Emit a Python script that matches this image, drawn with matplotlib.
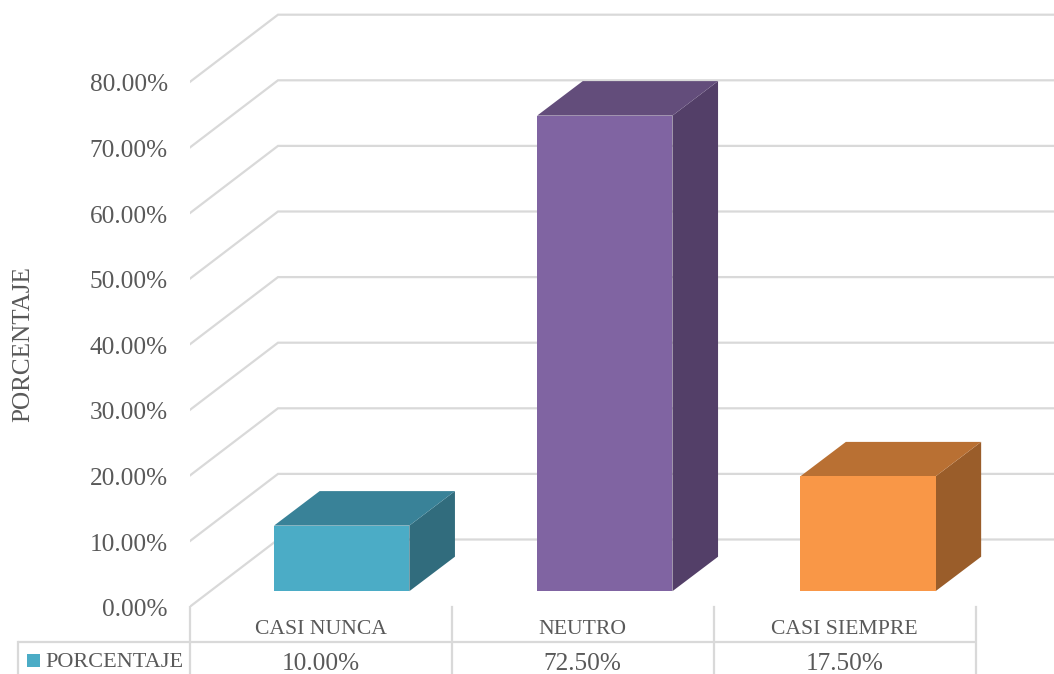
import matplotlib
matplotlib.use("Agg")
import matplotlib.pyplot as plt
from matplotlib.patches import Polygon, Rectangle
from matplotlib.transforms import ScaledTranslation

categories = ["CASI NUNCA", "NEUTRO", "CASI SIEMPRE"]
values = [10.0, 72.5, 17.5]
series_name = "PORCENTAJE"
y_ticks = [0, 10, 20, 30, 40, 50, 60, 70, 80]
y_tick_labels = [f"{v:.2f}%" for v in y_ticks]
front_colors = ["#4BACC6", "#8064A2", "#F99747"]
top_colors = ["#398298", "#634D7B", "#B97033"]
side_colors = ["#316C7D", "#533F68", "#9A5D2A"]

W, H = 1054, 674
LEFT, BASE = 189.5, 607.0      # pixel position of the (front) 0 line
CAT_W = 262.0                  # pixels per category
PX_PCT = 6.56                  # pixels per percent
GRID = "#D9D9D9"
TXT = "#595959"
plt.rcParams["font.family"] = ["Liberation Serif", "DejaVu Serif"]

fig = plt.figure(figsize=(W / 100, H / 100), dpi=100)
ax = fig.add_axes([LEFT / W, (H - BASE) / H, (W - LEFT) / W, BASE / H])
ax.set_xlim(-0.5, -0.5 + (W - LEFT) / CAT_W)
ax.set_ylim(0, BASE / PX_PCT)
for s in ax.spines.values():
    s.set_visible(False)

dxp = lambda p: p / CAT_W      # pixel length -> x data
dyp = lambda p: p / PX_PCT     # pixel length -> y data

# walls
wall_dx, wall_dy = dxp(88.5), dyp(67.5)
xmax = ax.get_xlim()[1]
for v in y_ticks:
    ax.plot([-0.5, -0.5 + wall_dx, xmax], [v, v + wall_dy, v + wall_dy],
            color=GRID, lw=1.6, zorder=1, solid_joinstyle="miter")

# 3D bars
bar_w = dxp(135.3)
bar_off = dxp(21.2)
bar_step = dxp(263.1)
lift = dyp(15.8)
depth_x, depth_y = dxp(45.6), dyp(34.5)
for i, v in enumerate(values):
    x0 = i * bar_step + bar_off - bar_w / 2
    x1 = x0 + bar_w
    y0, y1 = lift, lift + v
    ax.add_patch(Polygon([(x1, y0), (x1 + depth_x, y0 + depth_y), (x1 + depth_x, y1 + depth_y), (x1, y1)],
                         closed=True, fc=side_colors[i], ec="none", zorder=3))
    ax.add_patch(Polygon([(x0, y1), (x1, y1), (x1 + depth_x, y1 + depth_y), (x0 + depth_x, y1 + depth_y)],
                         closed=True, fc=top_colors[i], ec="none", zorder=3))
    ax.add_patch(Rectangle((x0, y0), bar_w, v, fc=front_colors[i], ec="none", zorder=4))

# axis labels
ax.set_yticks(y_ticks, y_tick_labels)
ax.tick_params(axis="y", length=0, pad=15.5, labelsize=18.2, labelcolor=TXT)
shift = ScaledTranslation(0, -0.5 / 72, fig.dpi_scale_trans)
for lab in ax.get_yticklabels():
    lab.set_transform(lab.get_transform() + shift)
ax.set_xticks([])
fig.text(23.5 / W, 1 - 344.5 / H, series_name, rotation=90, ha="center", va="center",
         fontsize=18.1, color=TXT)

# data table
row_y = -dyp(642 - BASE)
bot_y = -dyp(H - BASE)
for k in range(len(categories) + 1):
    ax.plot([k - 0.5, k - 0.5], [0, bot_y], color=GRID, lw=1.6, clip_on=False, zorder=1)
ax.plot([-0.5 - dxp(LEFT - 18), len(categories) - 0.5], [row_y, row_y], color=GRID, lw=1.6,
        clip_on=False, zorder=1, solid_capstyle="butt")
ax.plot([-0.5 - dxp(LEFT - 18)] * 2, [row_y, bot_y], color=GRID, lw=1.6, clip_on=False, zorder=1)
for i, (c, v) in enumerate(zip(categories, values)):
    ax.text(i, -dyp(630 - BASE), c, ha="center", va="center", fontsize=15.6, color=TXT, clip_on=False)
    ax.text(i, -dyp(663.5 - BASE), f"{v:.2f}%", ha="center", va="center", fontsize=18.2, color=TXT, clip_on=False)
fig.patches.append(Rectangle((27 / W, 1 - 667 / H), 13 / W, 13 / H, transform=fig.transFigure,
                             fc=front_colors[0], ec="none"))
fig.text(45.5 / W, 1 - 662.5 / H, series_name, ha="left", va="center", fontsize=16.0, color=TXT)

fig.savefig("out.png", dpi=100)
